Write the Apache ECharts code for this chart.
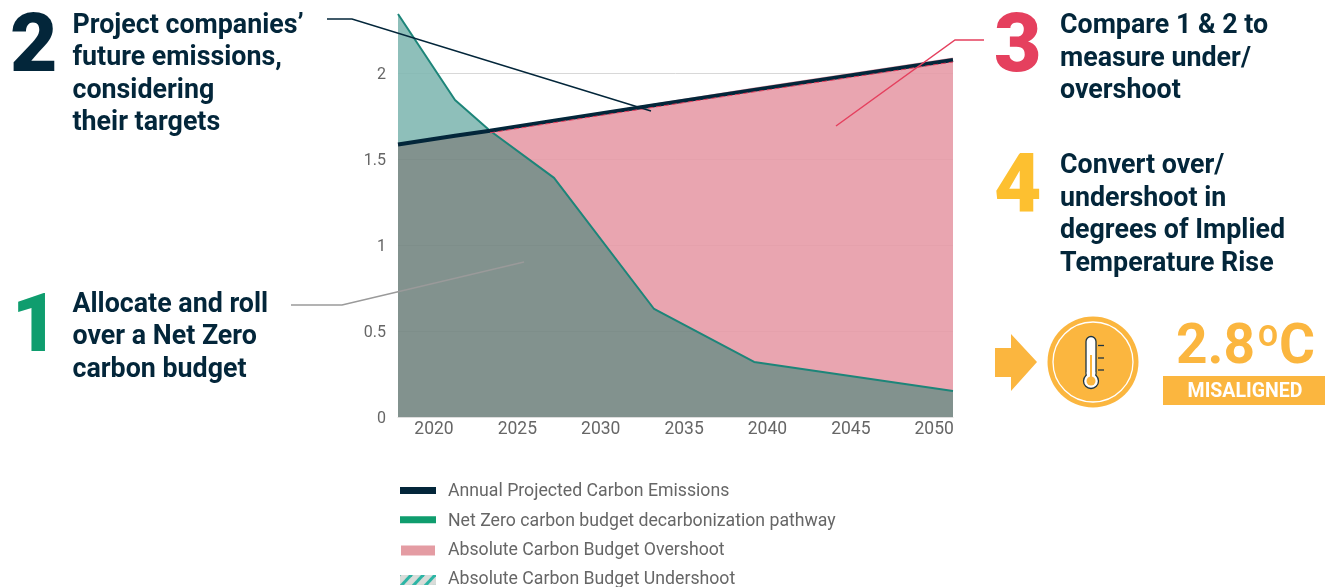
<!DOCTYPE html>
<html><head><meta charset="utf-8">
<style>html,body{margin:0;padding:0;background:#fff}#c{width:1325px;height:587px}</style>
<script src="https://cdn.jsdelivr.net/npm/echarts@6/dist/echarts.min.js"></script>
</head><body><div id="c"></div>
<script>
const years        = [2017.84, 2021.26, 2023.36, 2027.2, 2033.2, 2039.2, 2051.13];
const emissions    = [1.584, 1.635, 1.664, 1.723, 1.813, 1.902, 2.076];
const netZero      = [2.343, 1.843, 1.664, 1.39, 0.628, 0.32, 0.151];
const overshootTop = [1.584, 1.635, 1.664, 1.728, 1.822, 1.916, 2.09];
const overshootEdge= [null, null, 1.652, 1.711, 1.801, 1.890, 2.064];
const xTicks = [2020, 2025, 2030, 2035, 2040, 2045, 2050];
const names = ['Annual Projected Carbon Emissions','Net Zero carbon budget decarbonization pathway','Absolute Carbon Budget Overshoot','Absolute Carbon Budget Undershoot'];

const NAVY='#03263a', GREEN='#0f9d6e', RED='#e5405e', AMBER='#fbb63f', FF='Roboto';
const zip = a => a.map((v,i)=>[years[i],v]);
const base = years.map((_,i)=>Math.min(overshootTop[i],netZero[i]));

const pc=document.createElement('canvas');pc.width=12;pc.height=10;
const g=pc.getContext('2d');g.fillStyle='#d9dcd9';g.fillRect(0,0,12,10);
g.strokeStyle='#2bb5a5';g.lineWidth=3;
[-6,6,18].forEach(x=>{g.beginPath();g.moveTo(x-5,11);g.lineTo(x+6,-1);g.stroke();});

// area between an upper and a lower list of values, placed through the chart's own scales
const band=(name,upper,lower,color)=>({name,type:'custom',data:years.map((y,i)=>[y,upper[i],lower[i]]),
  encode:{x:0,y:[1,2]},z:2,silent:true,clip:true,itemStyle:{color},
  renderItem:(p,api)=>{
    if(p.dataIndex!==0) return null;
    const pts=[];
    years.forEach((y,i)=>pts.push(api.coord([y,upper[i]])));
    for(let i=years.length-1;i>=0;i--) pts.push(api.coord([years[i],lower[i]]));
    return {type:'polygon',shape:{points:pts},style:{fill:color,opacity:0.9}};
  }});
const t=(text,x,y,size,weight,fill,extra)=>({type:'text',z:100,silent:true,style:Object.assign({text,x,y,fontFamily:FF,fontSize:size,fontWeight:weight,fill,verticalAlign:'top',align:'left'},extra||{})});
const leader=(pts,color,w)=>({type:'polyline',z:100,silent:true,shape:{points:pts},style:{stroke:color,lineWidth:w,fill:null}});
const LH={lineHeight:32.4};
const zeros=years.map(()=>0);

const chart=echarts.init(document.getElementById('c'),null,{renderer:'canvas'});
chart.setOption({
 animation:false,backgroundColor:'#fff',
 textStyle:{fontFamily:FF},
 grid:{left:398,top:14,width:555,height:403},
 xAxis:{type:'value',min:years[0],max:years[years.length-1],splitLine:{show:false},
   axisLine:{show:true,lineStyle:{color:'#dddddd',width:1}},axisTick:{show:false},
   axisLabel:{customValues:xTicks,color:'#666',fontSize:17.5,margin:4,formatter:v=>String(v),hideOverlap:false}},
 yAxis:{type:'value',min:0,max:2.343,interval:0.5,
   splitLine:{show:true,showMaxLine:false,lineStyle:{color:'#d8d8d8',width:1}},axisLine:{show:false},axisTick:{show:false},
   axisLabel:{color:'#666',fontSize:16,margin:12,verticalAlign:'top',lineHeight:4,showMaxLabel:false,formatter:v=>String(v)}},
 legend:{orient:'vertical',left:400,top:482.5,padding:0,height:125,itemWidth:36,itemHeight:10,itemGap:10.3,selectedMode:false,
   textStyle:{color:'#666',fontSize:17.7,fontFamily:FF,padding:[0,0,0,7],lineHeight:19},
   data:[
    {name:names[0],icon:'path://M0 0L36 0L36 0ZM0 10L0 10L0 10ZM0 0H36V7H0Z',itemStyle:{color:NAVY,opacity:1}},
    {name:names[1],icon:'path://M0 0L36 0L36 0ZM0 10L0 10L0 10ZM0 0H36V7H0Z',itemStyle:{color:GREEN,opacity:1}},
    {name:names[2],icon:'path://M0 0L36 0L36 0ZM0 10L0 10L0 10ZM1 0H35V10H1Z',itemStyle:{color:'#e49ca3',opacity:1}},
    {name:names[3],icon:'rect',itemStyle:{color:{image:pc,repeat:'repeat'},opacity:1}}
   ]},
 series:[
  band('overlap',base,zeros,'#748682'),
  band(names[3],netZero,base,'#82b8b2'),
  band(names[2],overshootTop,base,'#e79ba7'),
  {name:names[1],type:'line',data:zip(netZero),symbol:'none',lineStyle:{color:'#1d8579',width:2},itemStyle:{color:GREEN},z:4,silent:true},
  {name:'edge',type:'line',data:zip(overshootEdge),symbol:'none',connectNulls:false,lineStyle:{color:RED,width:1,type:[5,3]},z:6,silent:true},
  {name:names[0],type:'line',data:zip(emissions),symbol:'none',lineStyle:{color:NAVY,width:4},itemStyle:{color:NAVY},z:5,silent:true}
 ],
 graphic:{elements:[
  t('2',10,9,82,900,NAVY),
  t('Project companies’\nfuture emissions,\nconsidering\ntheir targets',72.5,10,26.8,700,NAVY,LH),
  leader([[327,19],[352,19],[651,111]],NAVY,1.5),
  t('1',11.5,289,82,900,GREEN),
  t('Allocate and roll\nover a Net Zero\ncarbon budget',72.5,289,26.8,700,NAVY,LH),
  leader([[291,305],[342,305],[524,262]],'#9a9a9a',1.5),
  t('3',994,9,82,900,RED),
  t('Compare 1 & 2 to\nmeasure under/\novershoot',1060,10.5,26.8,700,NAVY,LH),
  leader([[836,126],[955,40],[984,40]],RED,1.5),
  t('4',994,149,82,900,'#fdc030'),
  t('Convert over/\nundershoot in\ndegrees of Implied\nTemperature Rise',1060,150.5,26.8,700,NAVY,LH),
  {type:'polygon',z:100,silent:true,shape:{points:[[995,348],[1011,348],[1011,334],[1037,362],[1011,391],[1011,377],[995,377]]},style:{fill:AMBER}},
  {type:'circle',z:100,silent:true,shape:{cx:1093,cy:362,r:45.5},style:{fill:AMBER}},
  {type:'circle',z:101,silent:true,shape:{cx:1093,cy:362,r:40},style:{fill:AMBER,stroke:'#fff',lineWidth:1.3}},
  {type:'rect',z:102,silent:true,shape:{x:1086,y:336.5,width:10,height:42,r:5},style:{fill:'#fff',stroke:'#1d3442',lineWidth:1.3}},
  {type:'circle',z:102,silent:true,shape:{cx:1091,cy:381,r:7.5},style:{fill:'#fff',stroke:'#1d3442',lineWidth:1.3}},
  {type:'rect',z:103,silent:true,shape:{x:1086.8,y:372,width:8.4,height:9},style:{fill:'#fff'}},
  {type:'rect',z:104,silent:true,shape:{x:1090,y:355,width:2,height:24},style:{fill:AMBER}},
  {type:'circle',z:104,silent:true,shape:{cx:1091,cy:381,r:4.5},style:{fill:AMBER}},
  {type:'line',z:104,silent:true,shape:{x1:1098,y1:345.5,x2:1104,y2:345.5},style:{stroke:'#1d3442',lineWidth:1.3}},
  {type:'line',z:104,silent:true,shape:{x1:1098,y1:358,x2:1104,y2:358},style:{stroke:'#1d3442',lineWidth:1.3}},
  {type:'line',z:104,silent:true,shape:{x1:1098,y1:370,x2:1104,y2:370},style:{stroke:'#1d3442',lineWidth:1.3}},
  t('2.8',1176,322,55,700,AMBER),
  t('O',1258,324,29,700,AMBER),
  t('C',1279,322,55,700,AMBER),
  {type:'rect',z:100,silent:true,shape:{x:1163,y:376,width:162,height:29},style:{fill:AMBER}},
  Object.assign(t('MISALIGNED',1245,382,19.5,700,'#fff',{align:'center'}),{z:101}),
 ]}
});
</script></body></html>
